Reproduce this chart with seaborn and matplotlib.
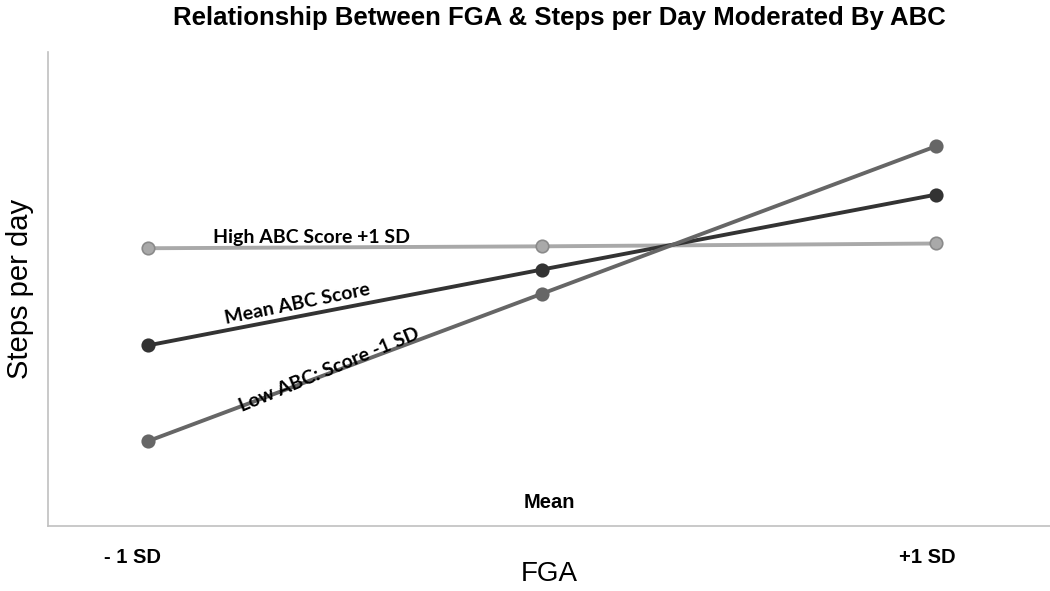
import numpy as np
import pandas as pd
import matplotlib.pyplot as plt
import seaborn as sns
from matplotlib.transforms import ScaledTranslation

# FGA levels (x) and estimated steps per day (arbitrary scale) for each ABC group
fga_levels = [0, 1, 2]
fga_labels = ["- 1 SD", "Mean", "+1 SD"]
high_abc = [58.6, 59.0, 59.6]
mean_abc = [38.1, 54.1, 69.9]
low_abc = [17.9, 49.0, 80.1]
groups = ["High ABC Score +1 SD", "Mean ABC Score", "Low ABC: Score -1 SD"]

df = pd.DataFrame({
    "FGA": fga_levels * 3,
    "steps": high_abc + mean_abc + low_abc,
    "group": np.repeat(groups, 3),
})

sns.set_style("white")
plt.rcParams["font.family"] = ["Liberation Sans", "DejaVu Sans"]
plt.rcParams["text.color"] = "black"
plt.rcParams["axes.labelcolor"] = "black"
plt.rcParams["xtick.color"] = "black"

fig = plt.figure(figsize=(10.5, 5.91), dpi=100)
ax = fig.add_axes([0.0457, 0.1100, 0.9543, 0.8020])

palette = {groups[0]: "#a9a9a9", groups[1]: "#333333", groups[2]: "#666666"}
sns.lineplot(data=df, x="FGA", y="steps", hue="group", palette=palette,
             marker="o", markersize=9, linewidth=2.8, legend=False, ax=ax)
# darker edge on the light markers
for line in ax.lines:
    c = line.get_color()
    line.set_markeredgecolor("#8a8a8a" if c == "#a9a9a9" else c)
    line.set_markeredgewidth(1.2)

ax.set_xlim(-0.254, 2.29)
ax.set_ylim(0, 100)
ax.set_yticks([])
ax.set_xticks(fga_levels)
ax.set_xticklabels(fga_labels, fontweight="bold", fontsize=14.5)
ax.tick_params(axis="x", length=0, pad=16)
# "Mean" label sits above the axis line, the outer ones shift a little
shifts = [(-0.16, 0), (0.07, 0.55), (-0.08, 0)]
for lbl, (dx, dy) in zip(ax.get_xticklabels(), shifts):
    lbl.set_transform(lbl.get_transform() + ScaledTranslation(dx, dy, fig.dpi_scale_trans))

for s in ["top", "right"]:
    ax.spines[s].set_visible(False)
for s in ["left", "bottom"]:
    ax.spines[s].set_color("#c0c0c0")
    ax.spines[s].set_linewidth(1.2)

ax.set_xlabel("FGA", fontsize=20)
ax.xaxis.set_label_coords(0.5, -0.074)
ax.set_ylabel("Steps per day", fontsize=21, labelpad=10)
fig.suptitle("Relationship Between FGA & Steps per Day Moderated By ABC",
             fontsize=18.5, fontweight="bold", x=0.533, y=0.99)

lab_font = ["Lato", "DejaVu Sans"]
ax.text(0.415, 60.9, groups[0], fontsize=14, fontweight="bold",
        family=lab_font, ha="center", va="center")
ax.text(0.378, 46.8, groups[1], fontsize=14, fontweight="bold",
        family=lab_font, ha="center", va="center", rotation=11.5)
ax.text(0.459, 33.0, groups[2], fontsize=14, fontweight="bold",
        family=lab_font, ha="center", va="center", rotation=22.5)

fig.savefig("out.png", dpi=100)
